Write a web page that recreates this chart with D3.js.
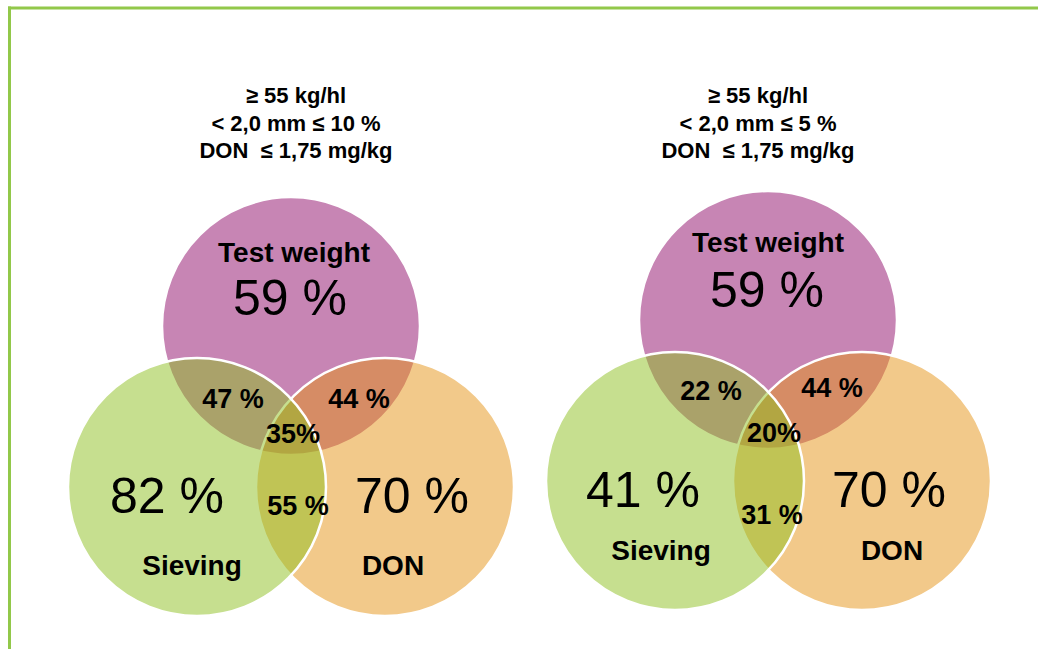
<!DOCTYPE html>
<html>
<head>
<meta charset="utf-8">
<script src="https://cdn.jsdelivr.net/npm/d3@7"></script>
<style>
  html, body { margin: 0; padding: 0; background: #fff; }
  svg { display: block; }
  text { font-family: "Liberation Sans", Arial, Helvetica, sans-serif; fill: #000; }
</style>
</head>
<body>
<svg id="chart" width="1038" height="649"></svg>
<script>
// Sets shown in each three-circle diagram
const sets = ["Test weight", "Sieving", "DON"];

// Quality criteria printed above each diagram
const criteriaLeft = ["≥ 55 kg/hl", "< 2,0 mm ≤ 10 %", "DON  ≤ 1,75 mg/kg"];
const criteriaRight = ["≥ 55 kg/hl", "< 2,0 mm ≤ 5 %", "DON  ≤ 1,75 mg/kg"];

// Share of samples meeting each single criterion: Test weight, Sieving, DON
const singleLeft = [59, 82, 70];
const singleRight = [59, 41, 70];

// Pairwise shares: Test weight & Sieving, Test weight & DON, Sieving & DON
const pairLeft = [47, 44, 55];
const pairRight = [22, 44, 31];

// All three criteria met
const tripleLeft = 35;
const tripleRight = 20;

const svg = d3.select("#chart");

// Frame lines (top and left)
svg.append("line").attr("x1", 8).attr("x2", 1038).attr("y1", 8).attr("y2", 8)
  .attr("stroke", "#92C84A").attr("stroke-width", 3);
svg.append("line").attr("x1", 9.5).attr("x2", 9.5).attr("y1", 6.5).attr("y2", 649)
  .attr("stroke", "#92C84A").attr("stroke-width", 3);

// Circle fills (drawn semi-transparent so overlaps blend)
const circleStyle = {
  "Test weight": { fill: "#C785B4", opacity: 1 },
  "DON": { fill: "#E59315", opacity: 0.5 },
  "Sieving": { fill: "#8DBF1F", opacity: 0.5 }
};
const drawOrder = ["Test weight", "DON", "Sieving"];

const panels = [
  {
    criteria: criteriaLeft, single: singleLeft, pair: pairLeft, triple: tripleLeft,
    r: 129,
    centers: { "Test weight": [291, 326], "Sieving": [197, 487], "DON": [385, 487] },
    titleX: 296,
    setLabel: { "Test weight": [294, 262], "Sieving": [192, 575], "DON": [393, 575] },
    singleLabel: { "Test weight": [290, 315], "Sieving": [167, 513], "DON": [412, 513] },
    pairLabel: [[233, 408], [359, 408], [298, 515]],
    tripleLabel: [293, 443]
  },
  {
    criteria: criteriaRight, single: singleRight, pair: pairRight, triple: tripleRight,
    r: 129,
    centers: { "Test weight": [768, 320], "Sieving": [675, 481], "DON": [862, 481] },
    titleX: 758,
    setLabel: { "Test weight": [768, 252], "Sieving": [661, 560], "DON": [892, 560] },
    singleLabel: { "Test weight": [767, 307], "Sieving": [643, 507], "DON": [889, 507] },
    pairLabel: [[711, 400], [832, 397], [772, 524]],
    tripleLabel: [774, 442]
  }
];

const pct = v => v + " %";

panels.forEach(p => {
  const g = svg.append("g");

  // Criteria block
  g.append("g").selectAll("text").data(p.criteria).join("text")
    .attr("x", p.titleX)
    .attr("y", (d, i) => 103 + i * 27.5)
    .attr("text-anchor", "middle")
    .attr("font-size", 22)
    .attr("font-weight", "bold")
    .style("white-space", "pre")
    .text(d => d);

  // Circles
  g.append("g").selectAll("circle").data(drawOrder).join("circle")
    .attr("cx", d => p.centers[d][0])
    .attr("cy", d => p.centers[d][1])
    .attr("r", p.r)
    .attr("fill", d => circleStyle[d].fill)
    .attr("fill-opacity", d => circleStyle[d].opacity)
    .attr("stroke", "#fff")
    .attr("stroke-width", 2.5);

  // Set names
  g.append("g").selectAll("text").data(sets).join("text")
    .attr("x", d => p.setLabel[d][0])
    .attr("y", d => p.setLabel[d][1])
    .attr("text-anchor", "middle")
    .attr("font-size", 28)
    .attr("font-weight", "bold")
    .text(d => d);

  // Single-criterion shares
  g.append("g").selectAll("text").data(sets).join("text")
    .attr("x", d => p.singleLabel[d][0])
    .attr("y", d => p.singleLabel[d][1])
    .attr("text-anchor", "middle")
    .attr("font-size", 50)
    .text((d, i) => pct(p.single[i]));

  // Pairwise shares
  g.append("g").selectAll("text").data(p.pair).join("text")
    .attr("x", (d, i) => p.pairLabel[i][0])
    .attr("y", (d, i) => p.pairLabel[i][1])
    .attr("text-anchor", "middle")
    .attr("font-size", 27)
    .attr("font-weight", "bold")
    .text(d => pct(d));

  // Triple share
  g.append("text")
    .attr("x", p.tripleLabel[0])
    .attr("y", p.tripleLabel[1])
    .attr("text-anchor", "middle")
    .attr("font-size", 27)
    .attr("font-weight", "bold")
    .text(p.triple + "%");
});
</script>
</body>
</html>
